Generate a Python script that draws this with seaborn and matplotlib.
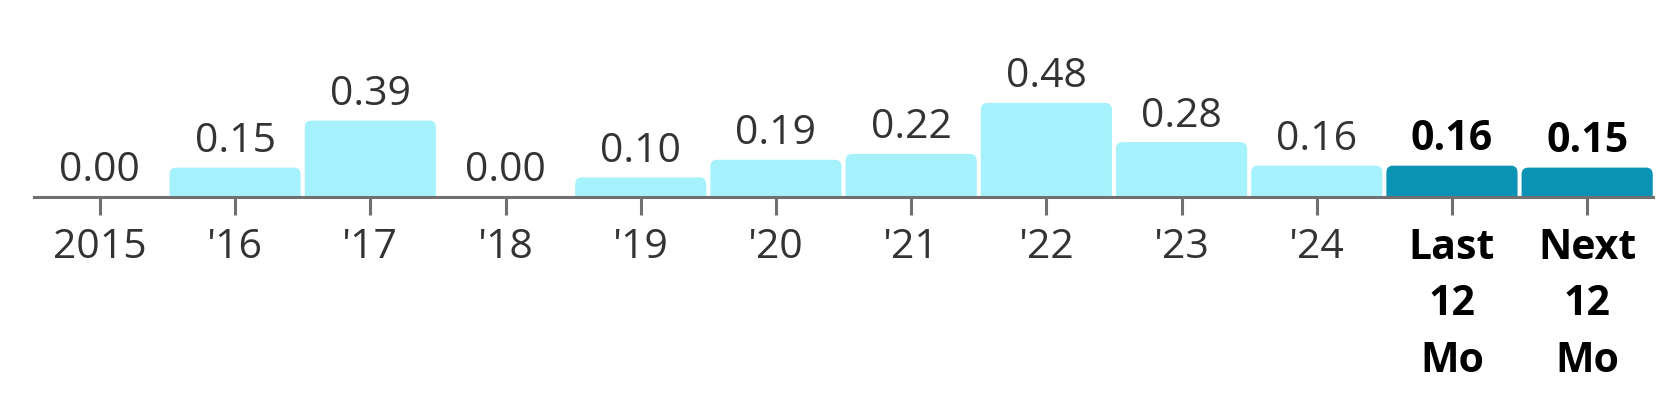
import numpy as np
import pandas as pd
import matplotlib.pyplot as plt
import seaborn as sns
from matplotlib.patches import FancyBboxPatch

# data
labels = ['2015', "'16", "'17", "'18", "'19", "'20", "'21", "'22", "'23", "'24", 'Last\n12\nMo', 'Next\n12\nMo']
values = [0.00, 0.15, 0.39, 0.00, 0.10, 0.19, 0.22, 0.48, 0.28, 0.16, 0.16, 0.15]
highlight = [False] * 10 + [True, True]

light = '#A5F2FC'
dark = '#0A93B5'
axis_gray = '#707070'
text_gray = '#333333'

sns.set_style('white')
plt.rcParams['font.family'] = ['Open Sans', 'DejaVu Sans']

df = pd.DataFrame({'label': labels, 'value': values, 'hl': highlight})

fig = plt.figure(figsize=(16.74, 4.18), dpi=100)
ax = fig.add_axes([0.0203, 0.5287, 0.9672, 0.2813])

sns.barplot(data=df, x='label', y='value', ax=ax, width=0.97, saturation=1,
            palette=[dark if h else light for h in highlight], hue='label', legend=False)

# swap square bars for rounded-top ones
for p, h in zip(list(ax.patches), highlight):
    x, w, hgt = p.get_x(), p.get_width(), p.get_height()
    fc = p.get_facecolor()
    p.remove()
    if hgt <= 0:
        continue
    ax.add_patch(FancyBboxPatch((x, -0.05), w, hgt + 0.05,
                                boxstyle='round,pad=0,rounding_size=0.05',
                                mutation_aspect=0.69, fc=fc, ec='none', lw=0))

ax.set_xlim(-0.4875, 11.4875)
ax.set_ylim(0, 0.6)

for i, (v, h) in enumerate(zip(values, highlight)):
    ax.annotate(f'{v:.2f}', (i, v), xytext=(0, 4), textcoords='offset points',
                ha='center', va='bottom', fontsize=29.5,
                fontweight='bold' if h else 'normal',
                color='black' if h else text_gray)

sns.despine(ax=ax, left=True, top=True, right=True)
ax.spines['bottom'].set_color(axis_gray)
ax.spines['bottom'].set_linewidth(2.2)
ax.set_yticks([])
ax.set_xlabel('')
ax.set_ylabel('')
ax.tick_params(axis='x', length=13, width=2.2, color=axis_gray, pad=9,
               labelsize=29.5, labelcolor=text_gray, bottom=True)
for t, h in zip(ax.get_xticklabels(), highlight):
    t.set_linespacing(1.5)
    if h:
        t.set_fontweight('bold')
        t.set_color('black')

fig.savefig('out.png', dpi=100)
